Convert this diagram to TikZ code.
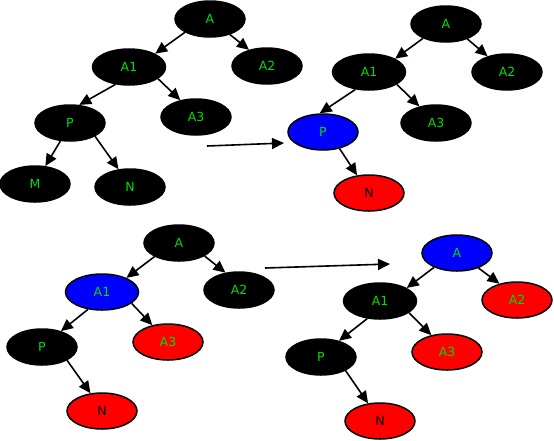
\documentclass[tikz,border=0pt]{standalone}
\usepackage{fontspec}
\newfontfamily\dv{DejaVu Sans}
\usetikzlibrary{shapes.geometric,arrows.meta}
\definecolor{tgreen}{RGB}{0,220,0}
\begin{document}
\begin{tikzpicture}[x=1pt,y=-1pt,
 tn/.style={ellipse, minimum width=70pt, minimum height=36pt, inner sep=0pt, draw=black, line width=1.5pt, font=\dv\fontsize{12.5}{14}\selectfont, text=tgreen},
 bk/.style={tn, fill=black},
 bl/.style={tn, fill=blue},
 rd/.style={tn, fill=red},
 wide/.style={minimum width=73pt},
 ed/.style={-{Triangle[length=12pt,width=11pt]}, line width=1.6pt}]
\useasboundingbox (0,0) rectangle (554,440);
% top-left
\node[bk] (a) at (210,19) {A};
\node[bk,wide] (a1) at (129,67) {A1};
\node[bk] (a2) at (267,66) {A2};
\node[bk] (p) at (70,123) {P};
\node[bk] (a3) at (196,117) {A3};
\node[bk] (m) at (35,184) {M};
\node[bk] (n) at (130,187) {N};
\draw[ed] (a.208) -- (a1.27);
\draw[ed] (a.322) -- (a2.138);
\draw[ed] (a1.232) -- (p.63);
\draw[ed] (a1.338) -- (a3.133);
\draw[ed] (p.242) -- (m.60);
\draw[ed] (p.332) -- (n.123);
% top-right
\node[bk] (b) at (446,24) {A};
\node[bk,wide] (b1) at (369,72) {A1};
\node[bk] (b2) at (507,72) {A2};
\node[bl] (q) at (323,132) {P};
\node[bk] (b3) at (436,123) {A3};
\node[rd,text=black] (bn) at (369,193) {N};
\draw[ed] (b.212) -- (b1.27);
\draw[ed] (b.325) -- (b2.141);
\draw[ed] (b1.232) -- (q.100);
\draw[ed] (b1.336) -- (b3.135);
\draw[ed] (q.315) -- (bn.124);
% bottom-left
\node[bk] (c) at (179,243) {A};
\node[bl,wide] (c1) at (102,292) {A1};
\node[bk] (c2) at (239,290) {A2};
\node[bk] (r) at (42,347) {P};
\node[rd] (c3) at (168,342) {A3};
\node[rd,text=black] (cn) at (102,411) {N};
\draw[ed] (c.209) -- (c1.30);
\draw[ed] (c.333) -- (c2.128);
\draw[ed] (c1.231) -- (r.40);
\draw[ed] (c1.339) -- (c3.133);
\draw[ed] (r.332) -- (cn.123);
% bottom-right
\node[bl] (d) at (457,253) {A};
\node[bk,wide] (d1) at (380,301) {A1};
\node[rd] (d2) at (517,300) {A2};
\node[bk] (s) at (321,357) {P};
\node[rd] (d3) at (447,352) {A3};
\node[rd,text=black] (dn) at (380,421) {N};
\draw[ed] (d.212) -- (d1.26);
\draw[ed] (d.325) -- (d2.137);
\draw[ed] (d1.234) -- (s.42);
\draw[ed] (d1.338) -- (d3.133);
\draw[ed] (s.331) -- (dn.124);
% transition arrows
\coordinate (t1s) at (207,146);
\coordinate (t1e) at (284,143);
\coordinate (t2s) at (265,268);
\coordinate (t2e) at (390,264);
\draw[ed] (t1s) -- (t1e);
\draw[ed] (t2s) -- (t2e);
\end{tikzpicture}
\end{document}
